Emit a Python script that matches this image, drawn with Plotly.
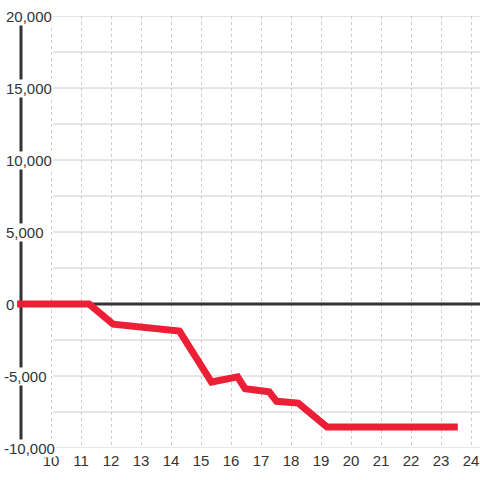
import plotly.graph_objects as go

# series
x_vals = [8.87, 11.27, 12.07, 14.28, 15.35, 16.22, 16.47, 17.27, 17.52, 18.24, 19.2, 23.56]
y_vals = [0, 0, -1400, -1880, -5420, -5060, -5880, -6100, -6760, -6880, -8540, -8540]

x_ticks = list(range(10, 25))
y_grid = [-10000, -7500, -5000, -2500, 2500, 5000, 7500, 10000, 12500, 15000, 17500, 20000]
y_labels = [-10000, -5000, 0, 5000, 10000, 15000, 20000]

RED = "#ed1f36"
INK = "#333333"
GRID = "#cccccc"
FONT = "Liberation Sans, Arial, sans-serif"

x_range = [8.3, 24.3]

fig = go.Figure()
fig.add_trace(go.Scatter(
    x=x_vals, y=y_vals, mode="lines",
    line=dict(color=RED, width=7),
    hoverinfo="skip", showlegend=False,
))

# horizontal grid lines start just right of the label column
for v in y_grid:
    fig.add_shape(type="line", xref="x", yref="y", x0=10.07, x1=x_range[1], y0=v, y1=v,
                  line=dict(color=GRID, width=1), layer="below")

# zero line and left axis line
fig.add_shape(type="line", xref="x", yref="y", x0=9, x1=x_range[1], y0=0, y1=0,
              line=dict(color=INK, width=3), layer="between")
fig.add_shape(type="line", xref="x", yref="y", x0=9, x1=9, y0=-10000, y1=20000,
              line=dict(color=INK, width=3), layer="between")

# y tick labels sit on top of the axis line with a background
for v in y_labels:
    fig.add_annotation(x=0, xref="paper", y=v, yref="y", text=f"{v:,}",
                       xanchor="left", yanchor="middle", showarrow=False,
                       xshift=2.5 if v < 0 else 5, bgcolor="white", borderpad=0,
                       font=dict(family=FONT, size=15, color=INK))

fig.update_layout(
    width=480, height=480,
    margin=dict(l=0, r=0, t=16, b=32),
    paper_bgcolor="white", plot_bgcolor="white",
    xaxis=dict(range=x_range, tickvals=x_ticks, ticktext=[str(t) for t in x_ticks],
               showgrid=True, gridcolor=GRID, griddash="dot", gridwidth=1,
               zeroline=False, showline=False, ticks="", ticklabelstandoff=2,
               automargin=False,
               tickfont=dict(family=FONT, size=15, color=INK), fixedrange=True),
    yaxis=dict(range=[-10000, 20000], showgrid=False, zeroline=False,
               showticklabels=False, showline=False, ticks="", fixedrange=True),
)

fig.write_html("out.html", config={"displayModeBar": False},
               post_script="document.body.style.margin='0';")
